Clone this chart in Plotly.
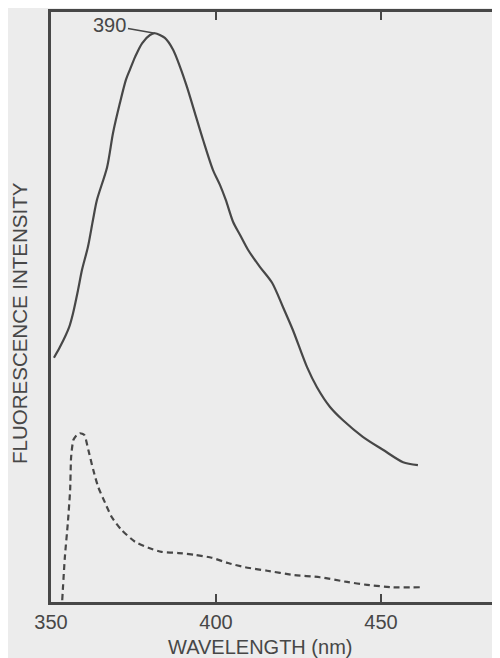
import plotly.graph_objects as go

# Solid curve (peak labelled 390)
solid_wl = [350.9, 352.7, 355.5, 356.7, 358.2, 359.4, 361.2, 362.7, 363.9, 367.0,
            368.8, 370.9, 372.7, 373.9, 375.5, 377.6, 380.0, 381.5, 384.5, 387.0,
            389.1, 391.2, 393.6, 396.1, 399.1, 401.2, 403.0, 405.2, 407.3, 409.7,
            413.3, 417.0, 420.3, 423.3, 427.6, 430.6, 434.5, 438.5, 444.5, 450.6,
            456.7, 461.2]
solid_int = [41.4, 43.2, 46.6, 49.0, 52.9, 56.3, 60.2, 64.7, 68.1, 73.7,
             79.5, 84.6, 88.5, 90.2, 92.4, 94.7, 96.1, 96.4, 95.6, 93.6,
             90.7, 87.3, 82.9, 78.3, 73.2, 70.7, 68.1, 64.4, 62.2, 59.7,
             56.8, 54.1, 50.0, 46.1, 39.8, 36.4, 33.1, 30.8, 28.0, 25.8,
             23.7, 23.2]

# Dashed curve
dashed_wl = [353.4, 354.2, 355.1, 355.8, 356.1, 356.8, 357.8, 358.8, 360.1, 361.3,
             362.8, 364.3, 366.4, 368.4, 371.4, 375.5, 379.5, 383.5, 388.6, 393.6,
             398.7, 403.7, 408.8, 415.5, 423.3, 431.5, 439.7, 445.8, 453.6, 461.8]
dashed_int = [0.3, 7.6, 13.4, 19.0, 24.6, 27.5, 28.3, 28.6, 28.3, 25.8,
              22.4, 19.5, 16.8, 14.4, 12.2, 10.2, 9.2, 8.5, 8.3, 8.0,
              7.5, 6.6, 5.9, 5.3, 4.6, 4.2, 3.4, 2.9, 2.5, 2.5]

tick_vals = [350, 400, 450]
tick_text = ["350", "400", "450"]
peak_label = "390"
x_title = "WAVELENGTH (nm)"
y_title = "FLUORESCENCE INTENSITY"

ink = "#474747"
bg = "#ececec"
font_family = "Liberation Sans, Arial, sans-serif"

fig = go.Figure()
fig.add_trace(go.Scatter(x=solid_wl, y=solid_int, mode="lines",
                         line=dict(color=ink, width=2.2, shape="spline", smoothing=0.8),
                         showlegend=False, hoverinfo="skip"))
fig.add_trace(go.Scatter(x=dashed_wl, y=dashed_int, mode="lines",
                         line=dict(color=ink, width=2.2, dash="6px,4px", shape="spline", smoothing=0.6),
                         showlegend=False, hoverinfo="skip"))

peak_i = solid_int.index(max(solid_int))
fig.add_annotation(x=solid_wl[peak_i], y=solid_int[peak_i], text=peak_label,
                   showarrow=True, arrowhead=0, arrowwidth=1.5, arrowcolor=ink,
                   ax=-45, ay=-8, font=dict(size=20, color=ink, family=font_family))

fig.add_annotation(xref="paper", yref="paper", x=0.457, y=-0.0763,
                   text=x_title, showarrow=False, xanchor="center", yanchor="middle",
                   font=dict(size=20, color=ink, family=font_family))
fig.add_annotation(xref="paper", yref="paper", x=-0.0678, y=0.473,
                   text=y_title, showarrow=False, textangle=-90,
                   xanchor="center", yanchor="middle",
                   font=dict(size=20.5, color=ink, family=font_family))

fig.update_layout(
    width=500, height=658,
    margin=dict(l=43, r=0, t=4, b=64),
    paper_bgcolor=bg, plot_bgcolor=bg,
    font=dict(family=font_family, color=ink),
    xaxis=dict(range=[350, 488.5], tickvals=tick_vals, ticktext=tick_text,
               ticks="inside", ticklen=8, tickwidth=2, tickcolor=ink,
               showline=True, linecolor=ink, linewidth=2.5, mirror="ticks",
               showgrid=False, zeroline=False,
               tickfont=dict(size=20, color=ink, family=font_family)),
    yaxis=dict(range=[0, 100], showticklabels=False, ticks="",
               showline=True, linecolor=ink, linewidth=2.5,
               showgrid=False, zeroline=False),
)

fig.write_html("out.html")
